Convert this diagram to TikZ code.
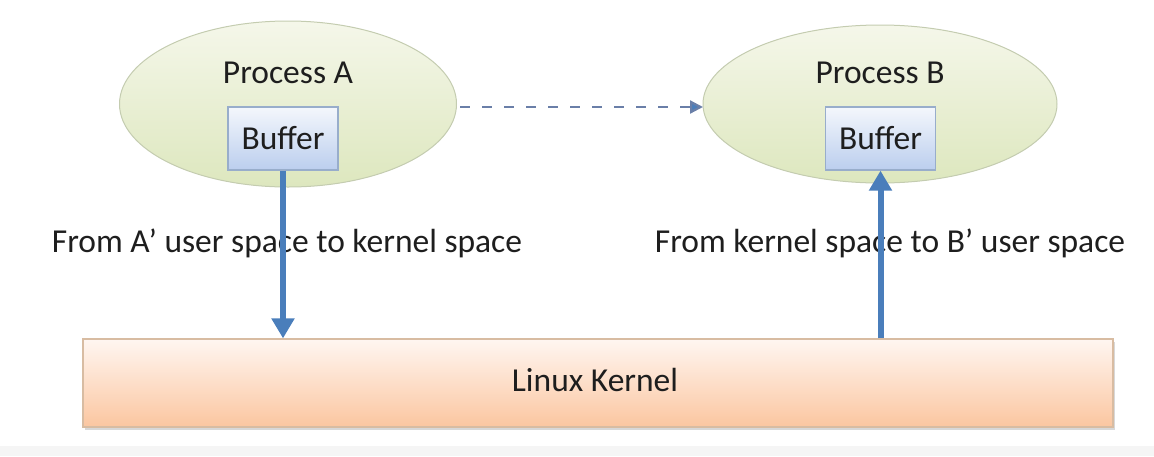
\documentclass[tikz,border=0pt]{standalone}
\usepackage{fontspec}
\setmainfont{Carlito}
\usetikzlibrary{shapes.geometric,arrows.meta,shadows}
\definecolor{txt}{HTML}{1E1E1E}
\definecolor{arrowblue}{HTML}{4A7EBB}
\definecolor{dashblue}{HTML}{6A7FA8}
\definecolor{elltop}{HTML}{F5F7EA}
\definecolor{ellbot}{HTML}{DDE7BE}
\definecolor{ellline}{HTML}{C4CCB0}
\definecolor{buftop}{HTML}{F4F7FC}
\definecolor{bufbot}{HTML}{BBCEEE}
\definecolor{bufline}{HTML}{98ADCB}
\definecolor{kertop}{HTML}{FFF6F1}
\definecolor{kerbot}{HTML}{FBC6A0}
\definecolor{kerline}{HTML}{D8BCA2}
\definecolor{strip}{HTML}{F5F5F5}
\tikzset{
  proc/.style={ellipse, draw=ellline, line width=1pt, top color=elltop, bottom color=ellbot, inner sep=0pt},
  bufbox/.style={rectangle, draw=bufline, line width=1.2pt, top color=buftop, bottom color=bufbot,
    minimum width=110pt, minimum height=63pt, inner sep=0pt, text=txt},
  kernbox/.style={rectangle, draw=kerline, line width=1.2pt, top color=kertop, bottom color=kerbot,
    minimum width=1030pt, minimum height=88pt, inner sep=0pt, text=txt,
    drop shadow={shadow xshift=2pt, shadow yshift=-3pt, fill=black!30}},
  lbl/.style={text=txt, inner sep=0pt},
  bigarrow/.style={draw=arrowblue, line width=6pt, -{Triangle[width=22pt,length=20pt]}},
  dasharrow/.style={draw=dashblue, line width=2.2pt, dash pattern=on 10pt off 12pt,
    -{Triangle[width=13pt,length=13pt,fill=arrowblue]}}
}
\begin{document}
\begin{tikzpicture}[x=1pt,y=-1pt,font=\fontsize{33.5}{40}\selectfont]
\useasboundingbox (0,0) rectangle (1154,456);
\fill[strip] (0,446) rectangle (1154,456);
% processes
\node[proc, minimum width=337pt, minimum height=166pt] (pa) at (288,104) {};
\node[proc, minimum width=354pt, minimum height=158pt] (pb) at (880,104) {};
\node[lbl] (ta) at (288,73) {Process A};
\node[lbl] (tb) at (880,73) {Process B};
\node[bufbox] (bufa) at (283,138.5) {Buffer};
\node[bufbox] (bufb) at (880.5,138.5) {Buffer};
% kernel
\node[kernbox] (kern) at (598,383) {};
\node[lbl] (tk) at (595,380) {Linux Kernel};
% labels
\node[lbl] (la) at (287,243) {From A’ user space to kernel space};
\node[lbl] (lb) at (890,243) {From kernel space to B’ user space};
% arrows
\coordinate (da) at (460,107);
\coordinate (db) at (703,107);
\draw[dasharrow] (da) -- (db);
\draw[bigarrow] (bufa.south) -- (bufa.south |- kern.north);
\draw[bigarrow] (bufb.south |- kern.north) -- (bufb.south);
\end{tikzpicture}
\end{document}
